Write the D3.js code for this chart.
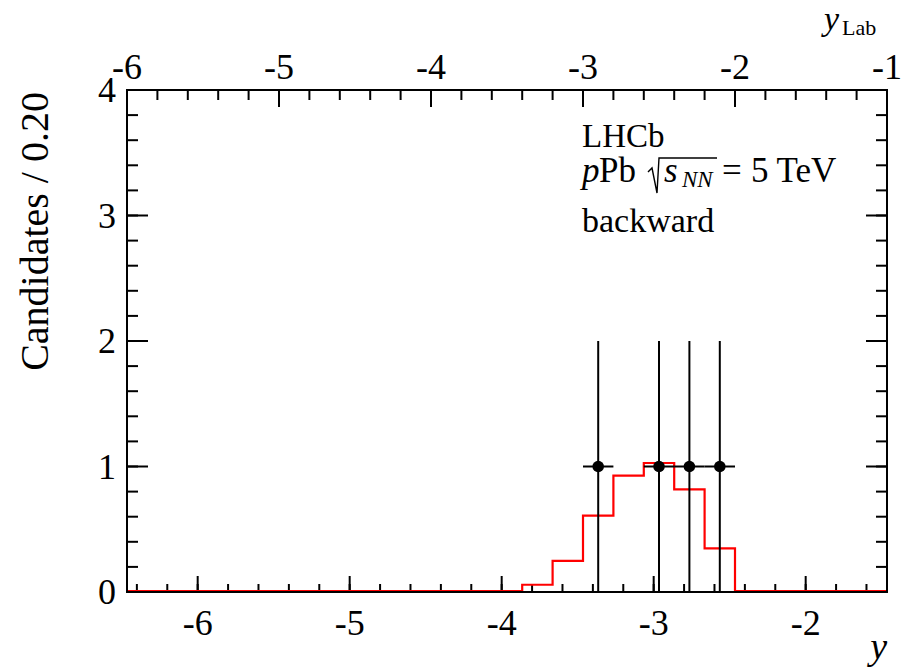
<!DOCTYPE html>
<html>
<head>
<meta charset="utf-8">
<script src="https://cdn.jsdelivr.net/npm/d3@7"></script>
<style>
  body { margin: 0; background: #fff; }
  text { font-family: "Liberation Serif", "Times New Roman", serif; fill: #000; }
</style>
</head>
<body>
<svg id="canvas" width="904" height="670"></svg>
<script>
// dati
const dominioY = [-6.465, -1.465];      // y (centro di massa)
const dominioYLab = [-6, -1];           // y_Lab
const dominioConteggi = [0, 4];
const tickBasso = [-6, -5, -4, -3, -2];
const tickAlto = [-6, -5, -4, -3, -2, -1];
const tickSinistra = [0, 1, 2, 3, 4];
const larghezzaBin = 0.2;

// istogramma rosso (bordo sinistro dei bin e contenuto)
const binSinistri = [-3.865, -3.665, -3.465, -3.265, -3.065, -2.865, -2.665];
const binValori = [0.05, 0.24, 0.60, 0.92, 1.02, 0.81, 0.34];

// punti dati
const puntiX = [-3.365, -2.965, -2.765, -2.565];
const puntiY = [1, 1, 1, 1];
const erroriGiu = [1, 1, 1, 1];
const erroriSu = [1, 1, 1, 1];

const svg = d3.select("#canvas");
const sx = 127, dx = 887, alto = 90, basso = 592;

const scalaX = d3.scaleLinear().domain(dominioY).range([sx, dx]);
const scalaXLab = d3.scaleLinear().domain(dominioYLab).range([sx, dx]);
const scalaY = d3.scaleLinear().domain(dominioConteggi).range([basso, alto]);

const minori = (dom, passo) => d3.range(Math.ceil(dom[0] / passo - 1e-6), Math.floor(dom[1] / passo + 1e-6) + 1).map(k => +(k * passo).toFixed(3));

// tacche
function tacche(g, vals, lung, dir) {
  vals.forEach(v => {
    const l = dir(v, lung);
    g.append("line").attr("x1", l[0]).attr("y1", l[1]).attr("x2", l[2]).attr("y2", l[3])
      .attr("stroke", "#000").attr("stroke-width", 2);
  });
}
const gt = svg.append("g");
const minB = minori(dominioY, 0.2);
tacche(gt, minB, 8, (v, l) => [scalaX(v), basso, scalaX(v), basso - l]);
tacche(gt, tickBasso, 16, (v, l) => [scalaX(v), basso, scalaX(v), basso - l]);
const minT = minori(dominioYLab, 0.2);
tacche(gt, minT, 10, (v, l) => [scalaXLab(v), alto, scalaXLab(v), alto + l]);
tacche(gt, tickAlto, 17, (v, l) => [scalaXLab(v), alto, scalaXLab(v), alto + l]);
const minS = minori(dominioConteggi, 0.2);
tacche(gt, minS, 11, (v, l) => [sx, scalaY(v), sx + l, scalaY(v)]);
tacche(gt, tickSinistra, 21, (v, l) => [sx, scalaY(v), sx + l, scalaY(v)]);
tacche(gt, minS, 11, (v, l) => [dx, scalaY(v), dx - l, scalaY(v)]);
tacche(gt, tickSinistra, 21, (v, l) => [dx, scalaY(v), dx - l, scalaY(v)]);

// istogramma
const passi = [[dominioY[0], 0]];
binSinistri.forEach((b, i) => {
  passi.push([b, i === 0 ? 0 : binValori[i - 1]]);
  passi.push([b, binValori[i]]);
});
const ultimo = binSinistri[binSinistri.length - 1] + larghezzaBin;
passi.push([ultimo, binValori[binValori.length - 1]]);
passi.push([ultimo, 0]);
passi.push([dominioY[1], 0]);
svg.append("path")
  .attr("d", d3.line().x(d => scalaX(d[0])).y(d => scalaY(d[1]) - 1)(passi))
  .attr("fill", "none").attr("stroke", "#ff0000").attr("stroke-width", 2.2);

// punti con errori
const gp = svg.append("g");
puntiX.forEach((x, i) => {
  const cx = scalaX(x), cy = scalaY(puntiY[i]);
  gp.append("line").attr("x1", cx).attr("x2", cx)
    .attr("y1", scalaY(puntiY[i] - erroriGiu[i])).attr("y2", scalaY(puntiY[i] + erroriSu[i]))
    .attr("stroke", "#000").attr("stroke-width", 2);
  gp.append("line").attr("x1", scalaX(x - larghezzaBin / 2)).attr("x2", scalaX(x + larghezzaBin / 2))
    .attr("y1", cy).attr("y2", cy).attr("stroke", "#000").attr("stroke-width", 2);
  gp.append("circle").attr("cx", cx).attr("cy", cy).attr("r", 5.8).attr("fill", "#000");
});

// cornice
svg.append("rect").attr("x", sx).attr("y", alto).attr("width", dx - sx).attr("height", basso - alto)
  .attr("fill", "none").attr("stroke", "#000").attr("stroke-width", 2);

// etichette
tickBasso.forEach(v => svg.append("text").attr("x", scalaX(v)).attr("y", 635)
  .attr("text-anchor", "middle").attr("font-size", 36).text(v));
tickAlto.forEach(v => svg.append("text").attr("x", scalaXLab(v)).attr("y", 79)
  .attr("text-anchor", "middle").attr("font-size", 36).text(v));
tickSinistra.forEach(v => svg.append("text").attr("x", 116).attr("y", scalaY(v) + 12)
  .attr("text-anchor", "end").attr("font-size", 36).text(v));

svg.append("text").attr("transform", "translate(48,92) rotate(-90)")
  .attr("text-anchor", "end").attr("font-size", 40).text("Candidates / 0.20");
svg.append("text").attr("x", 887).attr("y", 659).attr("text-anchor", "end")
  .attr("font-size", 38).attr("font-style", "italic").text("y");
svg.append("text").attr("x", 824).attr("y", 30).attr("font-size", 34)
  .attr("font-style", "italic").text("y");
svg.append("text").attr("x", 842).attr("y", 35).attr("font-size", 22).text("Lab");

// testo LHCb
svg.append("text").attr("x", 582).attr("y", 147).attr("font-size", 33).text("LHCb");
svg.append("text").attr("x", 582).attr("y", 232).attr("font-size", 34).text("backward");

const riga = 182;
const pezzo = (x, t, fs, it, dy) => {
  const el = svg.append("text").attr("x", x).attr("y", riga + (dy || 0)).attr("font-size", fs).text(t);
  if (it) el.attr("font-style", "italic");
  return el;
};
pezzo(582, "p", 35, true);
pezzo(599, "Pb", 35, false);
pezzo(664, "s", 35, true);
pezzo(682, "NN", 23, true, 5);
pezzo(722, "=", 35, false);
pezzo(751, "5 TeV", 35, false);
svg.append("path")
  .attr("d", "M648,172 L652,168 L657,193 L659,158 L717,158")
  .attr("fill", "none").attr("stroke", "#000").attr("stroke-width", 1.4);
</script>
</body>
</html>
